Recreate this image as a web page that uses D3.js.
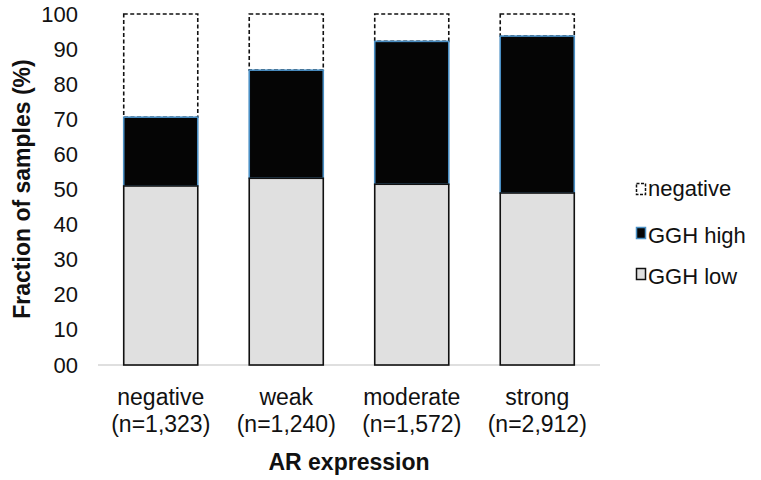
<!DOCTYPE html>
<html>
<head>
<meta charset="utf-8">
<script src="https://cdn.jsdelivr.net/npm/d3@7"></script>
<style>
  body { margin: 0; background: #fff; }
  text { font-family: "Liberation Sans", Arial, sans-serif; fill: #111; }
</style>
</head>
<body>
<svg id="chart"></svg>
<script>
// AR expression groups (percent)
let categories = ["negative", "weak", "moderate", "strong"];
let counts = ["(n=1,323)", "(n=1,240)", "(n=1,572)", "(n=2,912)"];
let gghLow = [51, 53.2, 51.5, 49];
let gghHigh = [19.6, 30.8, 40.7, 44.7];
let negative = [29.4, 16, 7.8, 6.3];
let yTicks = [0, 10, 20, 30, 40, 50, 60, 70, 80, 90, 100];
let yTickLabels = ["00", "10", "20", "30", "40", "50", "60", "70", "80", "90", "100"];

let width = 761;
let height = 480;

let svg = d3.select("#chart").attr("width", width).attr("height", height);

let x = d3.scaleBand().domain(categories).range([98, 600]).paddingInner(0.41).paddingOuter(0.205);
let y = d3.scaleLinear().domain([0, 100]).range([365, 14]);

// stacked segments: low at bottom, high in middle, negative on top
let rows = categories.map(function(c, i){
    return {cat: c, low: gghLow[i], high: gghHigh[i], neg: negative[i]};
});
let stack = d3.stack().keys(["low", "high", "neg"])(rows);

let styles = {
    low: {fill: "#e0e0e0", stroke: "#111", dash: null},
    high: {fill: "#050505", stroke: "#4a8fc4", dash: null},
    neg: {fill: "#ffffff", stroke: "#111", dash: "4,2.5"}
};

// axis line
svg.append("line")
    .attr("x1", 98).attr("x2", 600)
    .attr("y1", y(0)).attr("y2", y(0))
    .attr("stroke", "#d4d4d4").attr("stroke-width", 1.5);

// draw top layer first so the lower segments' edges sit on top
stack.slice().reverse().forEach(function(layer){
    let st = styles[layer.key];
    svg.selectAll(".seg-" + layer.key)
        .data(layer)
        .enter()
        .append("rect")
        .attr("class", "seg-" + layer.key)
        .attr("x", function(d){ return x(d.data.cat); })
        .attr("y", function(d){ return y(d[1]); })
        .attr("width", x.bandwidth())
        .attr("height", function(d){ return y(d[0]) - y(d[1]); })
        .attr("fill", st.fill)
        .attr("stroke", st.stroke)
        .attr("stroke-width", 1.6)
        .attr("stroke-dasharray", st.dash);
});

// y tick labels (no axis line in the original)
let yAxis = d3.axisLeft(y).tickValues(yTicks)
    .tickFormat(function(d, i){ return yTickLabels[i]; })
    .tickSize(0).tickPadding(0);
let gy = svg.append("g").attr("transform", "translate(78,0)").call(yAxis);
gy.select(".domain").remove();
gy.selectAll("text")
    .attr("font-size", 22)
    .attr("font-family", "'Liberation Sans', Arial, sans-serif")
    .attr("fill", "#111");

// x labels, two lines
let xLab = svg.selectAll(".xlab")
    .data(categories)
    .enter()
    .append("g")
    .attr("class", "xlab")
    .attr("transform", function(d){ return "translate(" + (x(d) + x.bandwidth()/2) + ",0)"; });
xLab.append("text")
    .attr("y", 405).attr("text-anchor", "middle").attr("font-size", 23)
    .text(function(d){ return d; });
xLab.append("text")
    .attr("y", 432).attr("text-anchor", "middle").attr("font-size", 23)
    .text(function(d, i){ return counts[i]; });

// axis titles
svg.append("text")
    .attr("x", 349).attr("y", 470)
    .attr("text-anchor", "middle").attr("font-size", 23).attr("font-weight", "bold")
    .text("AR expression");
svg.append("text")
    .attr("transform", "translate(30,189) rotate(-90)")
    .attr("text-anchor", "middle").attr("font-size", 23).attr("font-weight", "bold")
    .text("Fraction of samples (%)");

// legend
let legendItems = [
    {key: "neg", label: "negative", y: 189, base: 196},
    {key: "high", label: "GGH high", y: 233, base: 243},
    {key: "low", label: "GGH low", y: 274, base: 284}
];
let lg = svg.selectAll(".legend")
    .data(legendItems)
    .enter()
    .append("g")
    .attr("class", "legend");
lg.append("rect")
    .attr("x", 636.5).attr("y", function(d){ return d.y - 5.5; })
    .attr("width", 9).attr("height", 11)
    .attr("fill", function(d){ return styles[d.key].fill; })
    .attr("stroke", function(d){ return styles[d.key].stroke; })
    .attr("stroke-width", 1.5)
    .attr("stroke-dasharray", function(d){ return d.key === "neg" ? "3,1.5" : null; });
lg.append("text")
    .attr("x", 648).attr("y", function(d){ return d.base; }).attr("font-size", 22)
    .text(function(d){ return d.label; });
</script>
</body>
</html>
